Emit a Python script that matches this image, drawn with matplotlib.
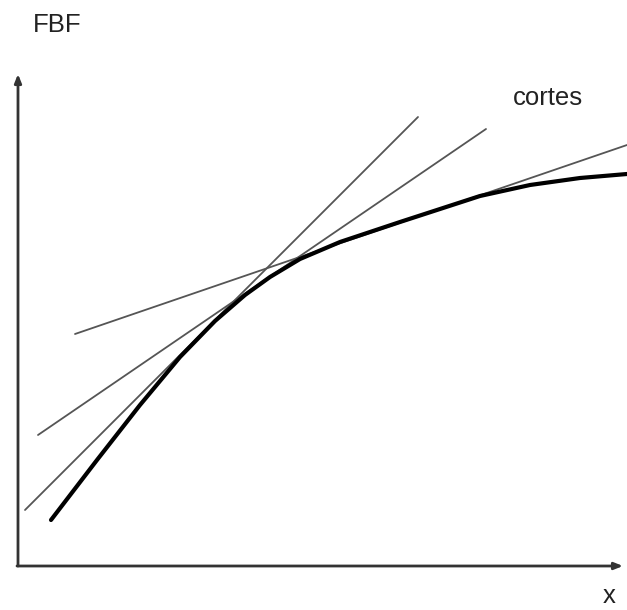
import matplotlib.pyplot as plt

# curve (pixel-like units, y grows downward)
curve_x = [51, 97, 140, 180, 215, 245, 270, 300, 340, 400, 440, 480, 530, 580, 627]
curve_y = [520, 460, 405, 357, 321, 295, 277, 259, 242, 222, 209, 196, 185, 178, 174]

# tangent ("cortes") lines: start and end points
cut_x = [[25, 418], [38, 486], [75, 627]]
cut_y = [[510, 117], [435, 129], [334, 145]]

fig = plt.figure(figsize=(6.27, 6.10), dpi=100)
ax = fig.add_axes([0, 0, 1, 1])
ax.set_xlim(0, 627)
ax.set_ylim(610, 0)
ax.axis('off')

# axes with arrows
arrow = dict(arrowstyle='-|>,head_length=0.5,head_width=0.2', color='#333333', lw=2,
             shrinkA=0, shrinkB=0)
ax.annotate('', xy=(18, 74), xytext=(18, 566), arrowprops=arrow)
ax.annotate('', xy=(623, 566), xytext=(17, 566), arrowprops=arrow)

for xs, ys in zip(cut_x, cut_y):
    ax.plot(xs, ys, color='#555555', lw=1.3, solid_capstyle='round')

ax.plot(curve_x, curve_y, color='black', lw=3, solid_capstyle='round',
        solid_joinstyle='round')

font = dict(family='Liberation Sans', fontsize=18.5, color='#222222')
ax.text(57, 25, 'FBF', ha='center', va='center', **font)
ax.text(548, 105, 'cortes', ha='center', va='baseline', **font)
ax.text(609, 596, 'x', ha='center', va='center', **font)

fig.savefig('out.png', dpi=100)
